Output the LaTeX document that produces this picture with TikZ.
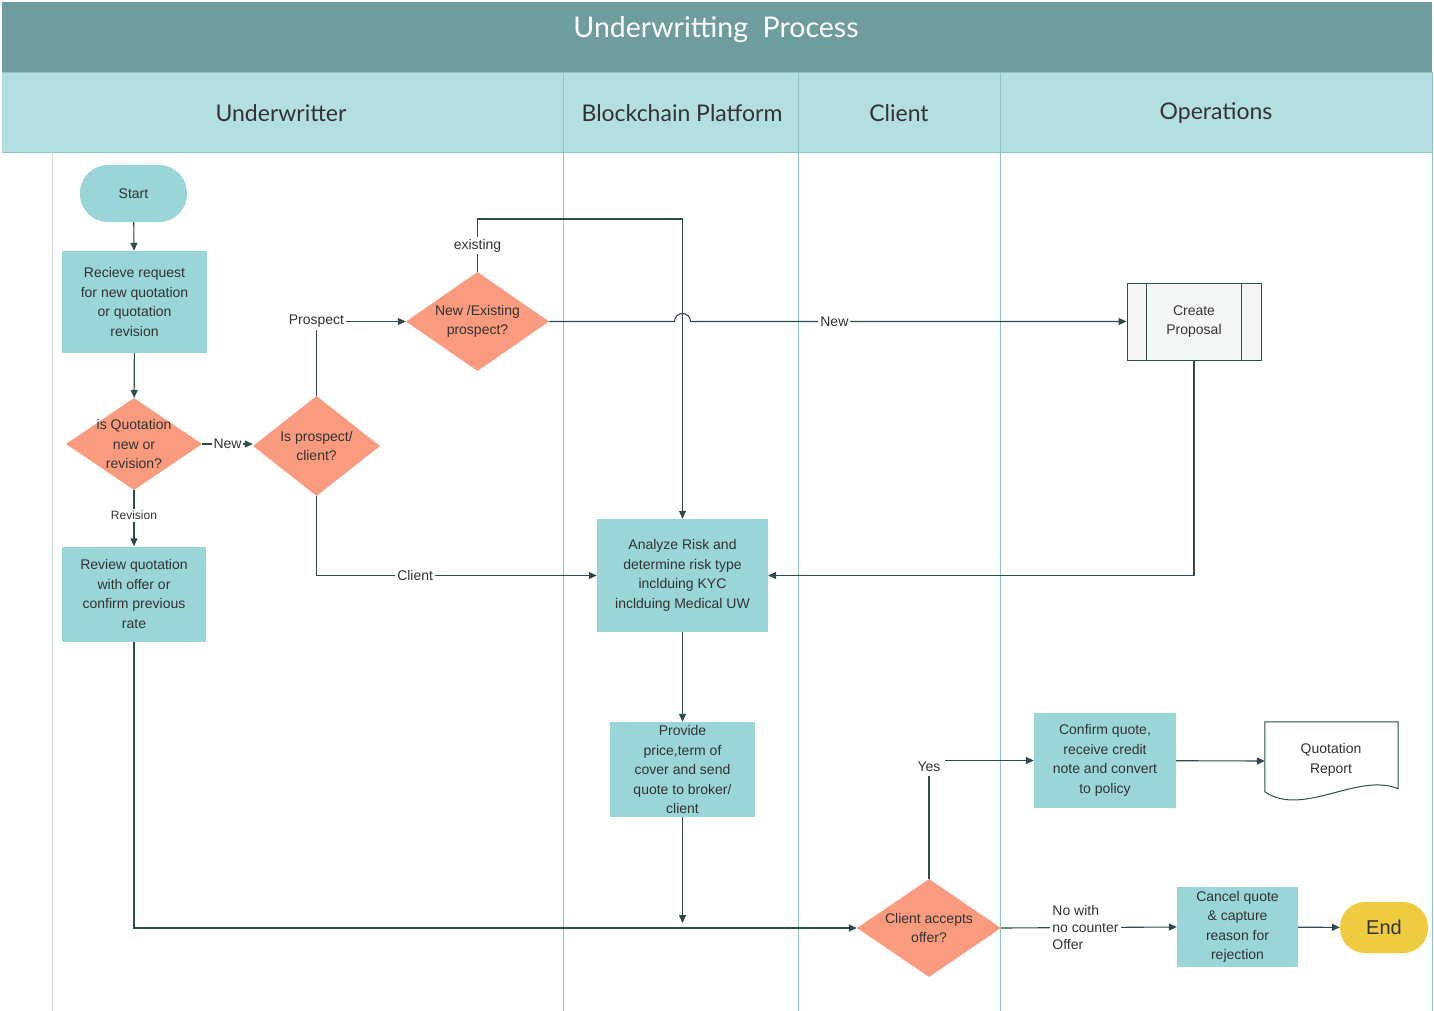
\documentclass[tikz,border=0pt]{standalone}
\usepackage{fontspec}
\setmainfont{Liberation Sans}
\newfontfamily\headfont{Lato}
\usetikzlibrary{arrows.meta,shapes.geometric,calc}

\definecolor{titlebar}{HTML}{6F9C9C}
\definecolor{headbar}{HTML}{B4DFE1}
\definecolor{laneline}{HTML}{8FC4C6}
\definecolor{leftline}{HTML}{D8DCDC}
\definecolor{boxfill}{HTML}{9AD5D7}
\definecolor{decfill}{HTML}{FA9A7E}
\definecolor{endfill}{HTML}{EECB3F}
\definecolor{subfill}{HTML}{F5F7F7}
\definecolor{linec}{HTML}{2F4A4C}
\definecolor{txt}{HTML}{333333}

\tikzset{
  basetext/.style={text=txt, align=center, font=\fontsize{14}{19.5}\selectfont},
  proc/.style={basetext, rectangle, fill=boxfill, inner sep=0pt},
  dec/.style={diamond, fill=decfill, inner sep=0pt},
  dectext/.style={basetext, inner sep=0pt},
  term/.style={basetext, rectangle, fill=boxfill, inner sep=0pt},
  subproc/.style={basetext, rectangle, fill=subfill, draw=linec, line width=1pt, inner sep=0pt},
  flow/.style={draw=linec, line width=1.1pt, -{Triangle[length=8pt,width=7pt]}},
  lbl/.style={text=txt, font=\fontsize{14}{17}\selectfont, fill=white, inner sep=2pt, align=left},
  lane/.style={draw=laneline, line width=0.9pt},
  headtext/.style={text=txt, font=\headfont\fontsize{23}{26}\selectfont}
}

\begin{document}
\begin{tikzpicture}[x=1pt,y=-1pt]
  % page
  \fill[white] (0,0) rectangle (1434,1011);
  \useasboundingbox (0,0) rectangle (1434,1011);

  % title and lane headers
  \fill[titlebar] (2,2) rectangle (1432,72);
  \node[text=white, font=\headfont\fontsize{28.5}{32}\selectfont] (title) at (716,30) {Underwritting\ \ Process};
  \fill[headbar] (2,72) rectangle (1432,152);
  \draw[lane] (2,72) -- (1432,72);
  \draw[lane] (2,152) -- (1432,152);
  \node[headtext] (h1) at (281,113) {Underwritter};
  \node[headtext] (h2) at (682,113) {Blockchain Platform};
  \node[headtext] (h3) at (899,113) {Client};
  \node[headtext] (h4) at (1216,113) {Operations};

  % lane separators
  \draw[leftline, line width=0.9pt] (52,152) -- (52,1011);
  \foreach \lx in {563,798,1000} {\draw[lane] (\lx,72) -- (\lx,1011);}
  \draw[lane] (1432,72) -- (1432,1011);

  % nodes
  \node[term, minimum width=107, minimum height=57, rounded corners=28pt] (start) at (133.5,193.5) {Start};
  \node[proc, minimum width=145, minimum height=102] (recv) at (134.5,302) {Recieve request\\for new quotation\\or quotation\\revision};
  \node[dec, minimum width=136, minimum height=92] (qnew) at (134,444) {};
  \node[dectext] (qnewt) at (qnew) {is Quotation\\new or\\revision?};
  \node[dec, minimum width=127, minimum height=100] (pc) at (316.5,446) {};
  \node[dectext] (pct) at (pc) {Is prospect/\\client?};
  \node[dec, minimum width=143, minimum height=99] (ne) at (477.5,321.5) {};
  \node[dectext] (net) at (ne) {New /Existing\\prospect?};
  \node[proc, minimum width=144, minimum height=95] (review) at (134,594) {Review quotation\\with offer or\\confirm previous\\rate};
  \node[proc, minimum width=171, minimum height=113] (risk) at (682.5,575.5) {Analyze Risk and\\determine risk type\\inclduing KYC\\inclduing Medical UW};
  \node[proc, minimum width=145, minimum height=95] (price) at (682.5,769.5) {Provide\\price,term of\\cover and send\\quote to broker/\\client};
  \node[subproc, minimum width=134, minimum height=77] (prop) at (1194,321.5) {Create\\Proposal};
  \draw[linec, line width=1pt] ($(prop.north west)+(20,0)$) -- ($(prop.south west)+(20,0)$);
  \draw[linec, line width=1pt] ($(prop.north east)+(-20,0)$) -- ($(prop.south east)+(-20,0)$);
  \node[dec, minimum width=144, minimum height=98] (acc) at (929,928) {};
  \node[dectext] (acct) at (acc) {Client accepts\\offer?};
  \node[proc, minimum width=142, minimum height=95] (conf) at (1105,760.5) {Confirm quote,\\receive credit\\note and convert\\to policy};
  \node[proc, minimum width=121, minimum height=80] (cancel) at (1237.5,927) {Cancel quote\\\& capture\\reason for\\rejection};
  \node[term, fill=endfill, minimum width=88, minimum height=51, rounded corners=25pt, font=\fontsize{20}{24}\selectfont] (end) at (1384,927.5) {End};

  % document shape with a wavy lower edge
  \node[minimum width=133, minimum height=78, inner sep=0pt] (rep) at (1331.5,761) {};
  \draw[linec, line width=1pt, fill=white]
    (rep.north west) -- (rep.north east) -- ($(rep.north east)+(0,67)$)
    .. controls ($(rep.north east)+(-40,50)$) and ($(rep.north west)+(38,96)$) .. ($(rep.north west)+(0,70)$) -- cycle;
  \node[basetext] (reptext) at (1331,760) {Quotation\\Report};

  % connectors
  \coordinate (extop) at (477.5,219);
  \coordinate (pricein) at (682.5,923);
  \draw[flow] (start) -- (recv);
  \draw[flow] (recv) -- (qnew);
  \draw[flow] (qnew.east) -- node[lbl, inner sep=1pt] {New} (qnew.east -| pc.west);
  \draw[flow] (qnew.south) -- node[lbl, font=\fontsize{12}{14}\selectfont, pos=0.45] {Revision} (review.north);
  \draw[flow] (pc.north) |- node[lbl, pos=0.5] {Prospect} (ne.west);
  \draw[flow] (pc.south) |- node[lbl, pos=0.676] {Client} (risk.west);
  \draw[flow] (ne.north) -- node[lbl] {existing} (extop) -| (risk.north);
  \draw[flow] (ne.east) -- ($(risk.north |- ne.east)+(-8,0)$)
    arc[start angle=180, end angle=0, radius=8pt]
    -- node[lbl, pos=0.33] {New} (prop.west);
  \draw[flow] (prop.south) |- (risk.east);
  \draw[flow] (risk) -- (price);
  \draw[flow] (price.south) -- (pricein);
  \draw[flow] (review.south) |- (acc.west);
  \draw[flow] (acc.north) |- node[lbl, pos=0.5, yshift=-6pt, inner sep=5pt] {Yes} (conf.west);
  \draw[flow] (conf) -- (rep.west);
  \draw[flow] (acc.east) -- node[lbl, pos=0.48] {No with\\no counter\\Offer} (cancel.west);
  \draw[flow] (cancel) -- (end);
\end{tikzpicture}
\end{document}
